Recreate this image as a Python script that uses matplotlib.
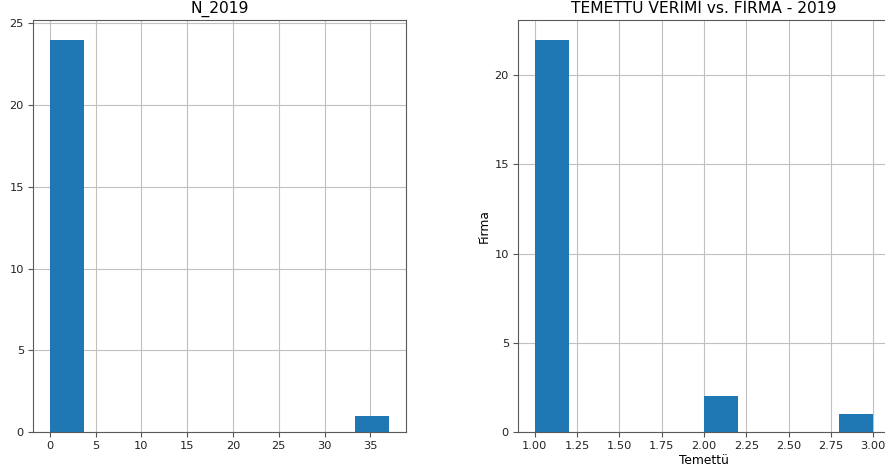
import matplotlib
matplotlib.use("Agg")
import matplotlib.pyplot as plt
import numpy as np

# Left histogram: N_2019 (10 bins between min and max)
n2019_range = (0, 37)
n2019_counts = [24, 0, 0, 0, 0, 0, 0, 0, 0, 1]

# Right histogram: Temettü verimi
temettu_range = (1.0, 3.0)
temettu_counts = [22, 0, 0, 0, 0, 2, 0, 0, 0, 1]

left_title = "N_2019"
right_title = "TEMETTÜ VERİMİ vs. FİRMA - 2019"
right_xlabel = "Temettü"
right_ylabel = "Firma"

W, H = 885, 474
fig = plt.figure(figsize=(W / 100, H / 100), dpi=100)

ax1 = fig.add_axes([33 / W, 42 / H, 372.5 / W, 412 / H])
ax2 = fig.add_axes([518 / W, 42 / H, 372 / W, 412 / H])

def draw(ax, rng, counts):
    edges = np.linspace(rng[0], rng[1], len(counts) + 1)
    ax.hist(edges[:-1], bins=edges, weights=counts, color="#1f77b4")
    ax.grid(True, color="#c0c0c0", linewidth=0.8)
    ax.set_axisbelow(True)
    ax.tick_params(labelsize=8.2, length=3.5, pad=3, color="#555555", labelcolor="#222222")
    for s in ax.spines.values():
        s.set_color("#5a5a5a")

draw(ax1, n2019_range, n2019_counts)
ax1.set_title(left_title, fontsize=11.2, pad=5)
ax1.set_xticks([0, 5, 10, 15, 20, 25, 30, 35])
ax1.set_yticks([0, 5, 10, 15, 20, 25])

draw(ax2, temettu_range, temettu_counts)
ax2.set_title(right_title, fontsize=11.2, pad=5)
ax2.set_xlabel(right_xlabel, fontsize=8.8, labelpad=2)
ax2.set_ylabel(right_ylabel, fontsize=8.8, labelpad=3)
ax2.set_xticks([1.0, 1.25, 1.5, 1.75, 2.0, 2.25, 2.5, 2.75, 3.0])
ax2.set_xticklabels(["1.00", "1.25", "1.50", "1.75", "2.00", "2.25", "2.50", "2.75", "3.00"])
ax2.set_yticks([0, 5, 10, 15, 20])

fig.savefig("out.png", dpi=100)
